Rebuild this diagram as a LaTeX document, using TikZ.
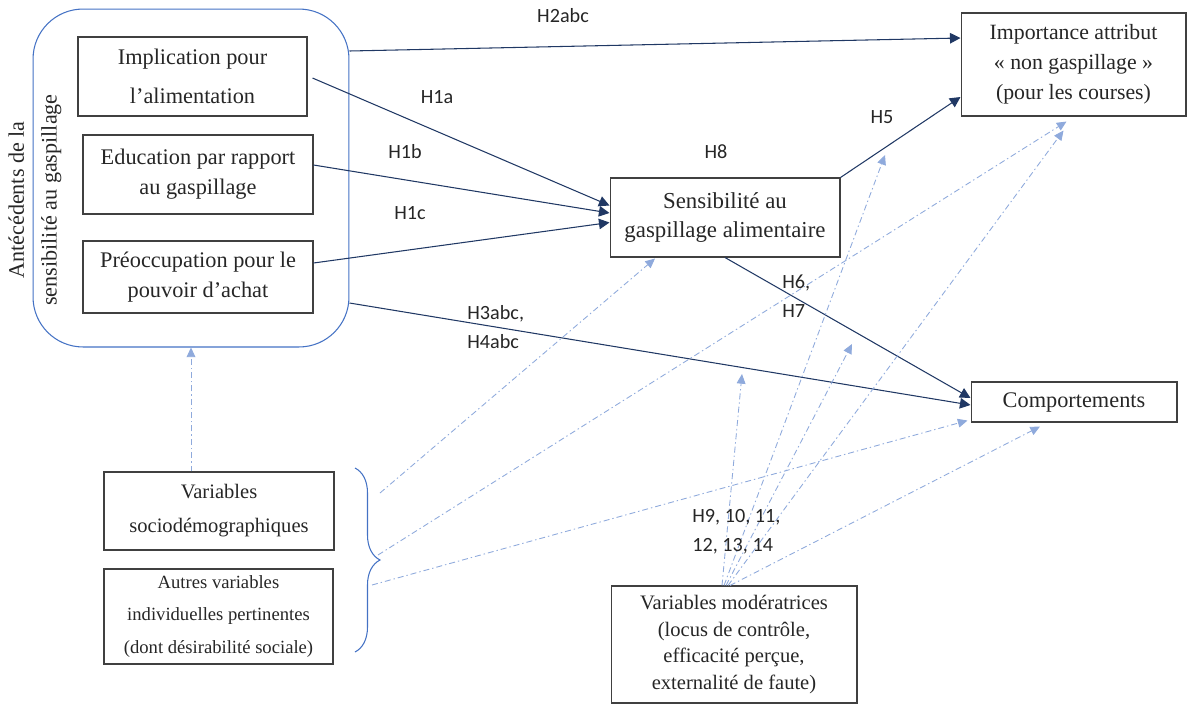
\documentclass[tikz,border=0pt]{standalone}
\usepackage{fontspec}
\setmainfont{Liberation Serif}
\newfontfamily\hypfont{Carlito}
\usetikzlibrary{arrows.meta,calc,decorations.pathreplacing}
\definecolor{navy}{RGB}{32,56,100}
\definecolor{lightblue}{RGB}{143,170,220}
\definecolor{frameblue}{RGB}{68,114,196}
\definecolor{txt}{RGB}{38,38,38}

\begin{document}
\begin{tikzpicture}[x=0.02cm,y=-0.02cm,
  box/.style={draw=black!75,line width=0.6pt,inner sep=0pt,align=center,text=txt},
  hyp/.style={font=\hypfont\fontsize{11.5}{16.5}\selectfont,text=txt,inner sep=0pt,align=left},
  link/.style={draw=navy,line width=0.6pt,-{Triangle[length=6pt,width=6pt]}},
  modlink/.style={draw=lightblue,line width=0.5pt,dash pattern=on 3.4pt off 1.7pt on 0.8pt off 1.7pt,-{Triangle[length=5.5pt,width=5pt]}}]

\useasboundingbox (0,0) rectangle (1187,704);

\node[draw=frameblue,line width=0.6pt,rounded corners=1cm,minimum width=6.32cm,minimum height=6.76cm] (ante) at (191,178) {};
\node[rotate=90,align=center,text=txt,font=\fontsize{12.6}{18.7}\selectfont] (anteLbl) at (35,200) {Antécédents de la\\sensibilité au gaspillage};

\node[box,minimum width=4.58cm,minimum height=1.58cm,font=\fontsize{12.7}{22}\selectfont] (impl) at (192.5,76.5) {Implication pour\\l’alimentation};
\node[box,minimum width=4.6cm,minimum height=1.58cm,font=\fontsize{12.7}{17}\selectfont] (educ) at (198,174.5) {Education par rapport\\au gaspillage};
\node[box,minimum width=4.6cm,minimum height=1.44cm,font=\fontsize{12.7}{17}\selectfont] (preo) at (198,277) {Préoccupation pour le\\pouvoir d’achat};

\node[box,minimum width=4.6cm,minimum height=1.58cm,font=\fontsize{13}{17}\selectfont] (sens) at (725,217.5) {Sensibilité au\\gaspillage alimentaire};
\node[box,minimum width=4.5cm,minimum height=2.06cm,font=\fontsize{12.4}{17}\selectfont] (impo) at (1073.5,64.5) {Importance attribut\\«~non gaspillage~»\\(pour les courses)};
\node[box,minimum width=4.12cm,minimum height=0.8cm,font=\fontsize{12.7}{15}\selectfont] (comp) at (1074,402) {Comportements};

\node[box,minimum width=4.6cm,minimum height=1.56cm,font=\fontsize{11.7}{19.3}\selectfont] (socio) at (219,511) {Variables\\sociodémographiques};
\node[box,minimum width=4.58cm,minimum height=1.9cm,font=\fontsize{10.6}{18.7}\selectfont] (autres) at (218.5,616.5) {Autres variables\\individuelles pertinentes\\(dont désirabilité sociale)};
\node[box,minimum width=4.92cm,minimum height=2.34cm,font=\fontsize{11.7}{15.3}\selectfont] (mod) at (734,644.5) {Variables modératrices\\(locus de contrôle,\\efficacité perçue,\\externalité de faute)};

\draw[frameblue,line width=0.6pt,decorate,decoration={brace,amplitude=0.5cm}] (355,468) -- (355,652);
\coordinate (s1) at (380,493);
\coordinate (s2) at (378,555);
\coordinate (s3) at (372,585);
\coordinate (onH3) at (742,374);
\coordinate (onH6) at (852,344);
\coordinate (onH5) at (885,155);

\draw[link] ($(ante.east)+(0,-127)$) -- ($(impo.west)+(0,-26.5)$);
\draw[link] ($(impl.east)+(5,1.5)$) -- ($(sens.west)+(0,-12)$);
\draw[link] ($(educ.east)+(0,-9.5)$) -- ($(sens.west)+(0,-4.5)$);
\draw[link] ($(preo.east)+(0,-14)$) -- ($(sens.west)+(0,5)$);
\draw[link] ($(ante.east)+(0,125)$) -- ($(comp.west)+(0,3)$);
\draw[link] (sens.north east) -- ($(impo.west)+(0,32.5)$);
\draw[link] (sens.south) -- ($(comp.west)+(0,-4)$);

\draw[modlink] (ante.south |- socio.north) -- (ante.south);
\draw[modlink] (s1) -- ($(sens.south)+(-70,1)$);
\draw[modlink] (s2) -- ($(impo.south)+(-7,5)$);
\draw[modlink] (s3) -- ($(comp.south west)+(-3,-2)$);
\draw[modlink] ($(mod.north)+(-12,0)$) -- (onH3);
\draw[modlink] ($(mod.north)+(-8,0)$) -- (onH6);
\draw[modlink] ($(mod.north)+(-10,0)$) -- (onH5);
\draw[modlink] ($(mod.north)+(-6,0)$) -- ($(impo.south)+(-10,14)$);
\draw[modlink] ($(mod.north)+(-4,0)$) -- ($(comp.south)+(-34,4)$);

\node[hyp] (h2) at (563,16) {H2abc};
\node[hyp] (h1a) at (437,97) {H1a};
\node[hyp] (h1b) at (405,152) {H1b};
\node[hyp] (h1c) at (410,213) {H1c};
\node[hyp] (h8) at (716,152) {H8};
\node[hyp] (h5) at (882,117) {H5};
\node[hyp,anchor=west] (h67) at (782,296) {H6,\\H7};
\node[hyp,anchor=west] (h34) at (467,327.5) {H3abc,\\H4abc};
\node[hyp,anchor=west] (h9) at (692,531.5) {H9, 10, 11,\\12, 13, 14};

\end{tikzpicture}
\end{document}
